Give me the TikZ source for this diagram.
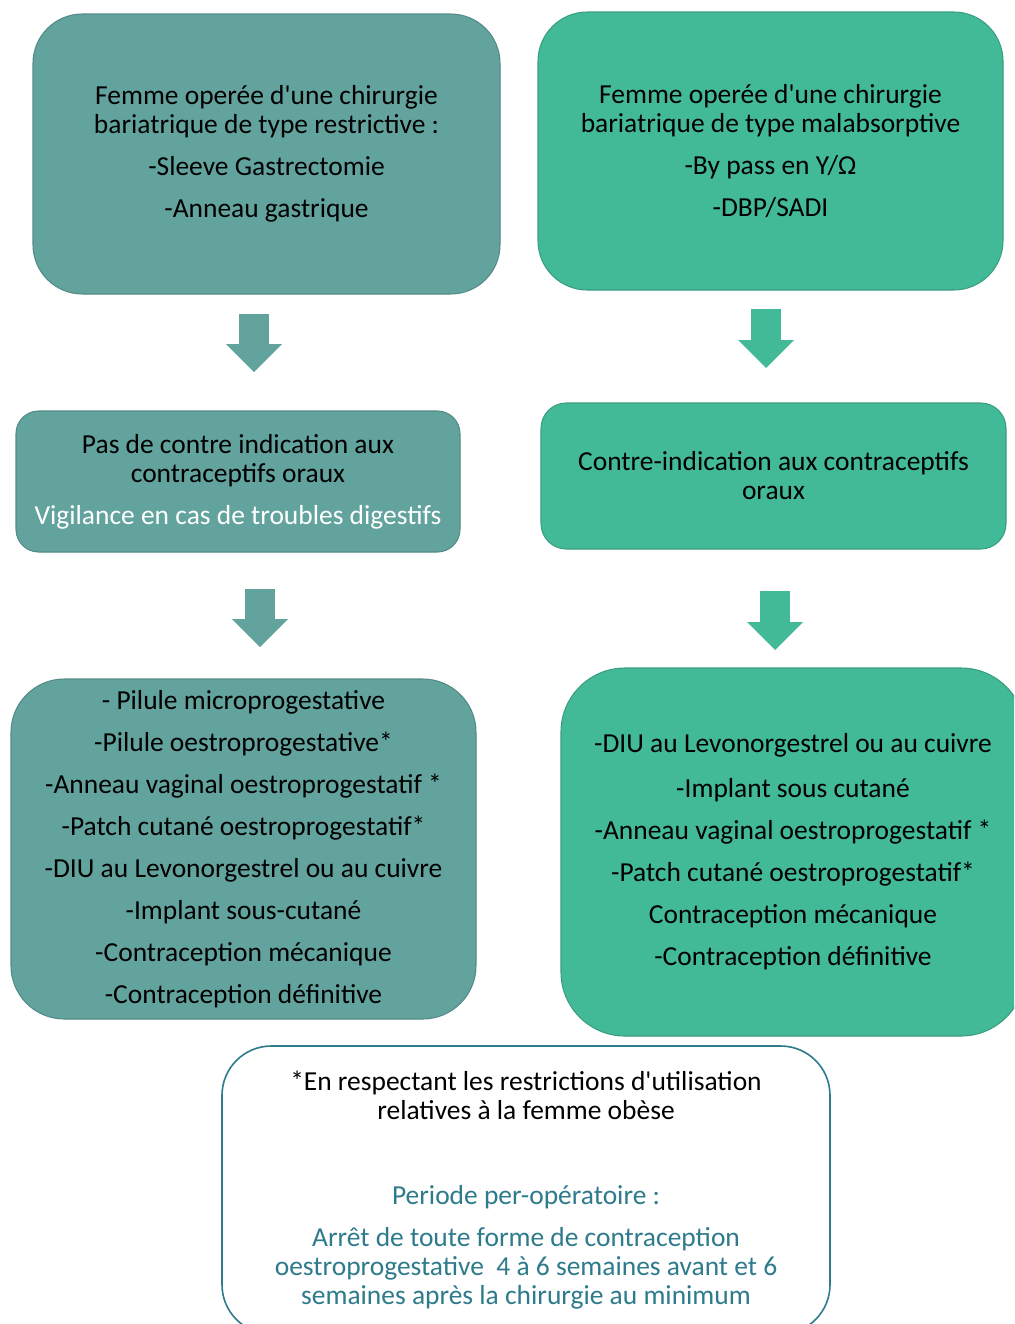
\documentclass[tikz,border=0pt]{standalone}
\usepackage{fontspec}
\setmainfont{Carlito}
\usepackage{xcolor}
\definecolor{restrteal}{HTML}{63A39E}
\definecolor{malabgreen}{HTML}{43BA97}
\definecolor{noteblue}{HTML}{2E7B8C}
\usepackage{tikz}
\usetikzlibrary{arrows.meta, positioning}

\tikzset{
  flowbox/.style={draw, line width=0.8pt, align=center, inner sep=0pt,
    font=\fontsize{20.6pt}{21.75pt}\selectfont},
  restrbox/.style={flowbox, fill=restrteal, draw=restrteal!85!black},
  malabbox/.style={flowbox, fill=malabgreen, draw=malabgreen!85!black},
  notebox/.style={flowbox, fill=white, draw=noteblue, line width=1.2pt},
  downarrow/.style={line width=22.5pt, draw=#1,
    -{Triangle[width=42pt, length=21pt, line width=0pt]}},
}

\begin{document}
\begin{tikzpicture}[x=0.75pt, y=-0.75pt]
    \clip[use as bounding box] (0,0) rectangle (1014,1324);
    % Surgery type
    \node[restrbox, rounded corners=37pt, minimum width=467*0.75pt, minimum height=280*0.75pt]
      (restr) at (266.5,154) {Femme operée d\textquotesingle une chirurgie\\
      bariatrique de type restrictive :\\[9.75pt]
      -Sleeve Gastrectomie\\[9.75pt]
      -Anneau gastrique};
    \node[malabbox, rounded corners=37pt, minimum width=465*0.75pt, minimum height=278*0.75pt]
      (malab) at (770.5,151) {Femme operée d\textquotesingle une chirurgie\\
      bariatrique de type malabsorptive\\[9.75pt]
      -By pass en Y/Ω\\[9.75pt]
      -DBP/SADI};
    % Oral contraceptives
    \node[restrbox, rounded corners=17pt, minimum width=444*0.75pt, minimum height=141*0.75pt]
      (restrpill) at (238,481.5) {Pas de contre indication aux\\
      contraceptifs oraux\\[9.75pt]
      \textcolor{white}{Vigilance en cas de troubles digestifs}};
    \node[malabbox, rounded corners=19pt, minimum width=465*0.75pt, minimum height=146*0.75pt]
      (malabpill) at (773.5,476) {Contre-indication aux contraceptifs\\
      oraux};
    % Methods
    \node[restrbox, rounded corners=40pt, minimum width=465*0.75pt, minimum height=340*0.75pt]
      (restrlist) at (243.5,849) {- Pilule microprogestative\\[9.75pt]
      -Pilule oestroprogestative*\\[9.75pt]
      -Anneau vaginal oestroprogestatif *\\[9.75pt]
      -Patch cutané oestroprogestatif*\\[9.75pt]
      -DIU au Levonorgestrel ou au cuivre\\[9.75pt]
      -Implant sous-cutané\\[9.75pt]
      -Contraception mécanique\\[9.75pt]
      -Contraception définitive};
    \node[malabbox, rounded corners=48pt, minimum width=464*0.75pt, minimum height=368*0.75pt]
      (malablist) at (793,852) {-DIU au Levonorgestrel ou au cuivre\\[12pt]
      -Implant sous cutané\\[9.75pt]
      -Anneau vaginal oestroprogestatif *\\[9.75pt]
      -Patch cutané oestroprogestatif*\\[9.75pt]
      Contraception mécanique\\[9.75pt]
      -Contraception définitive};
    % Footnote
    \node[notebox, rounded corners=37pt, minimum width=608*0.75pt, minimum height=288*0.75pt]
      (note) at (526,1190) {*En respectant les restrictions d\textquotesingle utilisation\\
      relatives à la femme obèse\\[42pt]
      \textcolor{noteblue}{Periode per-opératoire :}\\[9.75pt]
      \textcolor{noteblue}{Arrêt de toute forme de contraception}\\
      \textcolor{noteblue}{oestroprogestative \ 4 à 6 semaines avant et 6}\\
      \textcolor{noteblue}{semaines après la chirurgie au minimum}};
    % Arrows
    \coordinate (ra1) at (254,314);
    \coordinate (ra2) at (254,372);
    \coordinate (ma1) at (766,309);
    \coordinate (ma2) at (766,368);
    \coordinate (rb1) at (260,589);
    \coordinate (rb2) at (260,647);
    \coordinate (mb1) at (775,591);
    \coordinate (mb2) at (775,650);
    \draw[downarrow=restrteal] (ra1) -- (ra2);
    \draw[downarrow=malabgreen] (ma1) -- (ma2);
    \draw[downarrow=restrteal] (rb1) -- (rb2);
    \draw[downarrow=malabgreen] (mb1) -- (mb2);
\end{tikzpicture}
\end{document}
